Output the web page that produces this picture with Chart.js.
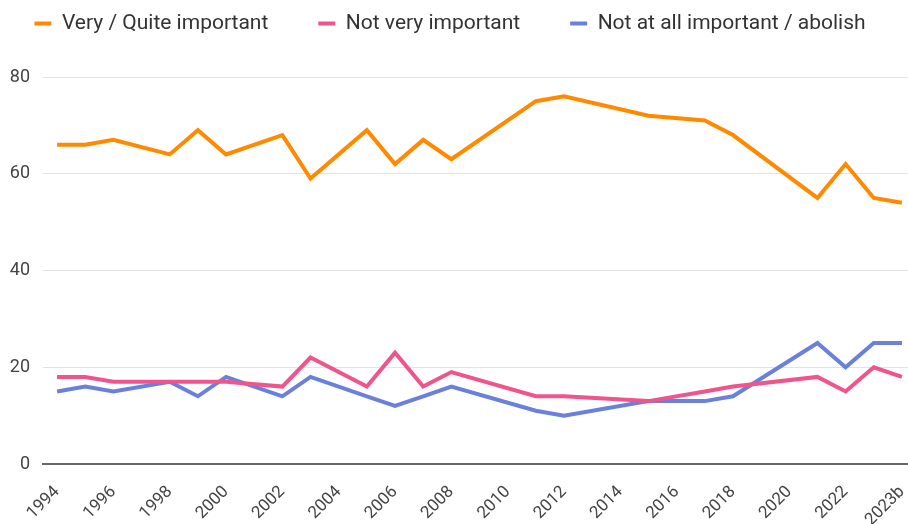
<!DOCTYPE html>
<html>
<head>
<meta charset="utf-8">
<script src="https://cdn.jsdelivr.net/npm/chart.js@4.4.1/dist/chart.umd.min.js"></script>
<style>
  html, body { margin: 0; padding: 0; background: #fff; overflow: hidden; }
  #clip { width: 908px; height: 524px; overflow: hidden; }
  #wrap { width: 924px; height: 524px; }
</style>
</head>
<body>
<div id="clip"><div id="wrap"><canvas id="chart"></canvas></div></div>
<script>
// years 1994..2023 plus the second 2023 survey; null = no survey that year
const years = ['1994', '1995', '1996', '1997', '1998', '1999', '2000', '2001', '2002', '2003',
    '2004', '2005', '2006', '2007', '2008', '2009', '2010', '2011', '2012', '2013',
    '2014', '2015', '2016', '2017', '2018', '2019', '2020', '2021', '2022', '2023', '2023b'];

const veryQuite = [66, 66, 67, null, 64, 69, 64, null, 68, 59,
    null, 69, 62, 67, 63, null, null, 75, 76, null,
    null, 72, null, 71, 68, null, null, 55, 62, 55, 54];

const notVery = [18, 18, 17, null, 17, 17, 17, null, 16, 22,
    null, 16, 23, 16, 19, null, null, 14, 14, null,
    null, 13, null, 15, 16, null, null, 18, 15, 20, 18];

const notAtAll = [15, 16, 15, null, 17, 14, 18, null, 14, 18,
    null, 14, 12, 14, 16, null, null, 11, 10, null,
    null, 13, null, 13, 14, null, null, 25, 20, 25, 25];

const seriesNames = ['Very / Quite important', 'Not very important', 'Not at all important / abolish'];
const yTicks = [0, 20, 40, 60, 80];

const colors = ['#ff8a00', '#f0548c', '#6b80db'];
const font = 'Roboto, "Noto Sans", sans-serif';

const datasets = [veryQuite, notVery, notAtAll].map((d, i) => ({
    label: seriesNames[i],
    data: d,
    borderColor: colors[i],
    backgroundColor: colors[i],
    borderWidth: 4,
    pointRadius: 0,
    pointHoverRadius: 0,
    tension: 0,
    spanGaps: true,
    fill: false
}));

// legend: one row, fixed height so the plot starts lower, centred at x=450
const legendPlace = {
    id: 'legendPlace',
    beforeInit(chart) {
        const fit = chart.legend.fit;
        chart.legend.fit = function () {
            const w = this.maxWidth;
            this.maxWidth = 2000;
            fit.call(this);
            this.maxWidth = w;
            this.width = w;
            this.height = 77;
        };
    },
    afterLayout(chart) {
        const lg = chart.legend;
        lg.top = -37;
        lg.left = -100;
        lg.right = 1000;
    }
};

new Chart(document.getElementById('chart'), {
    type: 'line',
    data: { labels: years, datasets: datasets },
    plugins: [legendPlace],
    options: {
        responsive: true,
        maintainAspectRatio: false,
        animation: false,
        layout: { padding: { left: 8, right: 8, top: 0, bottom: 0 } },
        plugins: {
            tooltip: { enabled: false },
            legend: {
                position: 'top',
                labels: {
                    font: { family: font, size: 21 },
                    color: '#333',
                    boxWidth: 17,
                    boxHeight: 4,
                    useBorderRadius: true,
                    borderRadius: 2,
                    padding: 50,
                    generateLabels: chart => chart.data.datasets.map((ds, i) => ({
                        text: ds.label,
                        fillStyle: ds.borderColor,
                        strokeStyle: ds.borderColor,
                        lineWidth: 0,
                        fontColor: '#333',
                        datasetIndex: i
                    }))
                }
            }
        },
        scales: {
            x: {
                offset: true,
                grid: { display: false },
                border: { display: true, color: '#666', width: 2 },
                afterFit: s => { s.height = 60; s.paddingLeft = 0; s.paddingRight = 0; },
                ticks: {
                    autoSkip: false,
                    maxRotation: 45,
                    minRotation: 45,
                    padding: 10,
                    color: '#444',
                    font: { family: font, size: 17 },
                    callback: function (v, i) {
                        return (i % 2 === 0) ? this.getLabelForValue(v) : null;
                    }
                }
            },
            y: {
                min: 0,
                max: 80,
                afterBuildTicks: axis => { axis.ticks = yTicks.map(v => ({ value: v })); },
                afterFit: s => { s.width = 35; },
                border: { display: false },
                grid: { color: '#e3e3e3', lineWidth: 1, drawTicks: false },
                ticks: {
                    padding: 13,
                    color: '#444',
                    font: { family: font, size: 18 }
                }
            }
        }
    }
});
</script>
</body>
</html>
